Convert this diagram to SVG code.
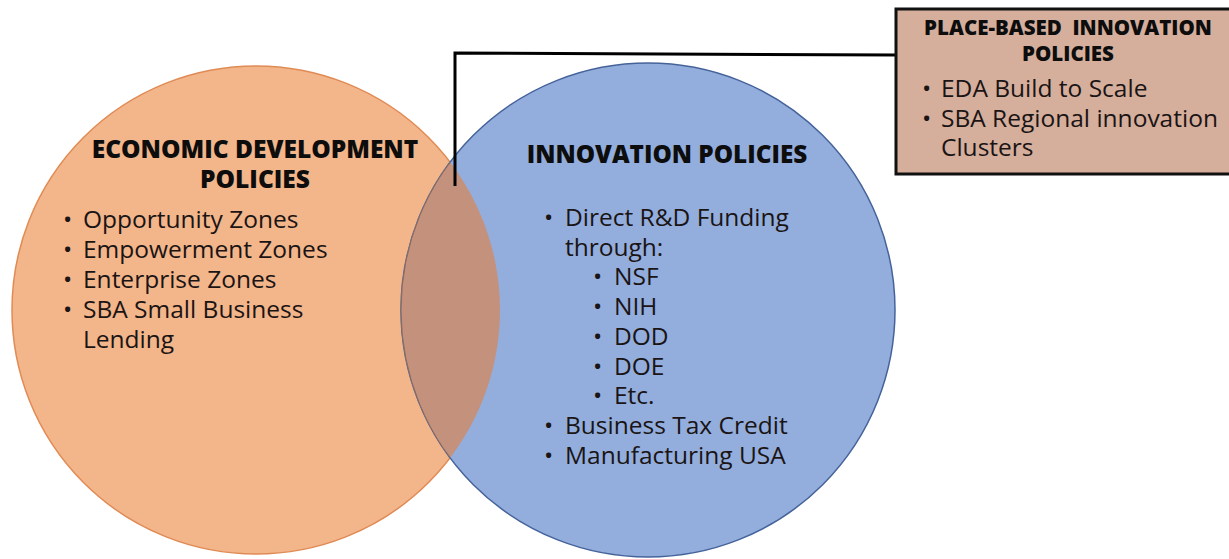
<svg xmlns="http://www.w3.org/2000/svg" width="1229" height="559" viewBox="0 0 1229 559">
<style>
.h{font-family:"Open Sans","Liberation Sans",sans-serif;font-weight:800;fill:#0d0d0d;text-anchor:middle}
.t{font-family:"Open Sans","Liberation Sans",sans-serif;font-size:24.5px;fill:#1a1414}
</style>
<defs>
<clipPath id="clipO"><circle cx="256" cy="310" r="244"/></clipPath>
</defs>
<rect width="1229" height="559" fill="#ffffff"/>
<g id="economic">
<circle cx="256" cy="310" r="244" fill="#f3b58a" stroke="#e08b55" stroke-width="1.5"/>
</g>
<g id="innovation">
<circle cx="648" cy="310" r="247" fill="#93aedd" stroke="#45639a" stroke-width="1.5"/>
<circle cx="648" cy="310" r="247" fill="#c4917c" stroke="#8a6a5c" stroke-width="1" clip-path="url(#clipO)"/>
</g>
<g id="connectors">
<polyline points="455,186 455,53 897,55" fill="none" stroke="#000" stroke-width="3"/>
</g>
<g id="economic-text">
<text class="h" font-size="24.5" x="255" y="158">ECONOMIC DEVELOPMENT</text>
<text class="h" font-size="24.5" x="255" y="188">POLICIES</text>
<text class="t" x="63" y="228">• <tspan x="83">Opportunity Zones</tspan></text>
<text class="t" x="63" y="258">• <tspan x="83">Empowerment Zones</tspan></text>
<text class="t" x="63" y="288">• <tspan x="83">Enterprise Zones</tspan></text>
<text class="t" x="63" y="318">• <tspan x="83">SBA Small Business</tspan></text>
<text class="t" x="83" y="348">Lending</text>
</g>
<g id="innovation-text">
<text class="h" font-size="24.3" x="667" y="163">INNOVATION POLICIES</text>
<text class="t" x="544" y="226">• <tspan x="565">Direct R&amp;D Funding</tspan></text>
<text class="t" x="565" y="256">through:</text>
<text class="t" x="593" y="285">• <tspan x="614">NSF</tspan></text>
<text class="t" x="593" y="315">• <tspan x="614">NIH</tspan></text>
<text class="t" x="593" y="345">• <tspan x="614">DOD</tspan></text>
<text class="t" x="593" y="375">• <tspan x="614">DOE</tspan></text>
<text class="t" x="593" y="404">• <tspan x="614">Etc.</tspan></text>
<text class="t" x="544" y="434">• <tspan x="565">Business Tax Credit</tspan></text>
<text class="t" x="544" y="464">• <tspan x="565">Manufacturing USA</tspan></text>
</g>
<g id="place-based">
<rect x="896" y="9" width="340" height="165" fill="#d5ae9c" stroke="#111" stroke-width="3"/>
<text class="h" font-size="20.5" x="1068" y="35" xml:space="preserve">PLACE-BASED  INNOVATION</text>
<text class="h" font-size="20.5" x="1068" y="61">POLICIES</text>
<text class="t" x="922" y="97">• <tspan x="941">EDA Build to Scale</tspan></text>
<text class="t" x="922" y="127">• <tspan x="941">SBA Regional innovation</tspan></text>
<text class="t" x="941" y="156">Clusters</text>
</g>
</svg>
